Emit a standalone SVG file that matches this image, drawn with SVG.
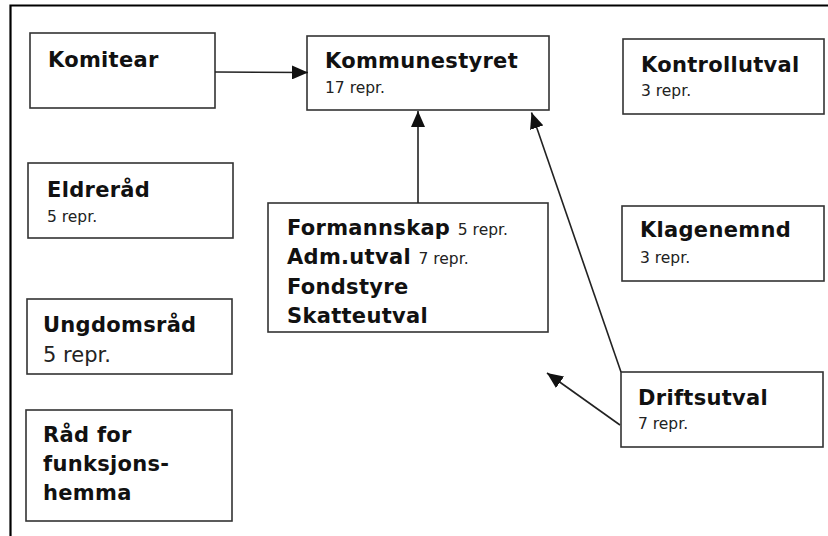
<svg xmlns="http://www.w3.org/2000/svg" width="828" height="536" viewBox="0 0 828 536">
<style>
.box{fill:#fff;stroke:#333;stroke-width:1.6}
.t{font-family:"DejaVu Sans",Verdana,sans-serif;font-weight:bold;font-size:21px;letter-spacing:0.3px;fill:#111}
.s{font-family:"DejaVu Sans",Verdana,sans-serif;font-weight:normal;font-size:15.5px;letter-spacing:0;fill:#222}
.sl{font-family:"DejaVu Sans",Verdana,sans-serif;font-weight:normal;font-size:21px;fill:#222}
.c{stroke:#222;stroke-width:1.6;fill:none;marker-end:url(#ah)}
</style>
<defs>
<marker id="ah" markerUnits="userSpaceOnUse" markerWidth="17" markerHeight="14" refX="16" refY="7" orient="auto">
<path d="M0,0 L16,7 L0,14 z" fill="#111"/>
</marker>
</defs>
<rect width="828" height="536" fill="#fff"/>
<path d="M10.5,536 L10.5,5.5 L828,5.5" fill="none" stroke="#000" stroke-width="2.2"/>
<g id="komitear"><rect class="box" x="30" y="33" width="185" height="75"/><text class="t" x="48" y="67">Komitear</text></g>
<g id="kommunestyret"><rect class="box" x="307" y="36" width="242" height="74"/><text class="t" x="325" y="68">Kommunestyret</text><text class="s" x="325" y="93">17 repr.</text></g>
<g id="kontrollutval"><rect class="box" x="623" y="39" width="201" height="75"/><text class="t" x="641" y="72">Kontrollutval</text><text class="s" x="641" y="96">3 repr.</text></g>
<g id="eldrerad"><rect class="box" x="28" y="163" width="205" height="75"/><text class="t" x="47" y="197">Eldreråd</text><text class="s" x="47" y="222">5 repr.</text></g>
<g id="formannskap"><rect class="box" x="268" y="203" width="280" height="129"/>
<text class="t" x="287" y="235">Formannskap <tspan class="s">5 repr.</tspan></text>
<text class="t" x="287" y="264">Adm.utval <tspan class="s">7 repr.</tspan></text>
<text class="t" x="287" y="294">Fondstyre</text>
<text class="t" x="287" y="323">Skatteutval</text></g>
<g id="klagenemnd"><rect class="box" x="622" y="206" width="202" height="75"/><text class="t" x="640" y="237">Klagenemnd</text><text class="s" x="640" y="263">3 repr.</text></g>
<g id="ungdomsrad"><rect class="box" x="27" y="299" width="205" height="75"/><text class="t" x="43" y="332">Ungdomsråd</text><text class="sl" x="43" y="362">5 repr.</text></g>
<g id="funksjonshemma"><rect class="box" x="26" y="410" width="206" height="111"/><text class="t" x="43" y="442">Råd for</text><text class="t" x="43" y="471">funksjons-</text><text class="t" x="43" y="500">hemma</text></g>
<g id="driftsutval"><rect class="box" x="621" y="372" width="202" height="75"/><text class="t" x="638" y="405">Driftsutval</text><text class="s" x="638" y="429">7 repr.</text></g>
<g id="connectors">
<path class="c" d="M215,72 L308,72.5"/>
<path class="c" d="M418,203 L418,111"/>
<path class="c" d="M621,372 L531.5,112.5"/>
<path class="c" d="M620,425 L547,373"/>
</g>
</svg>
